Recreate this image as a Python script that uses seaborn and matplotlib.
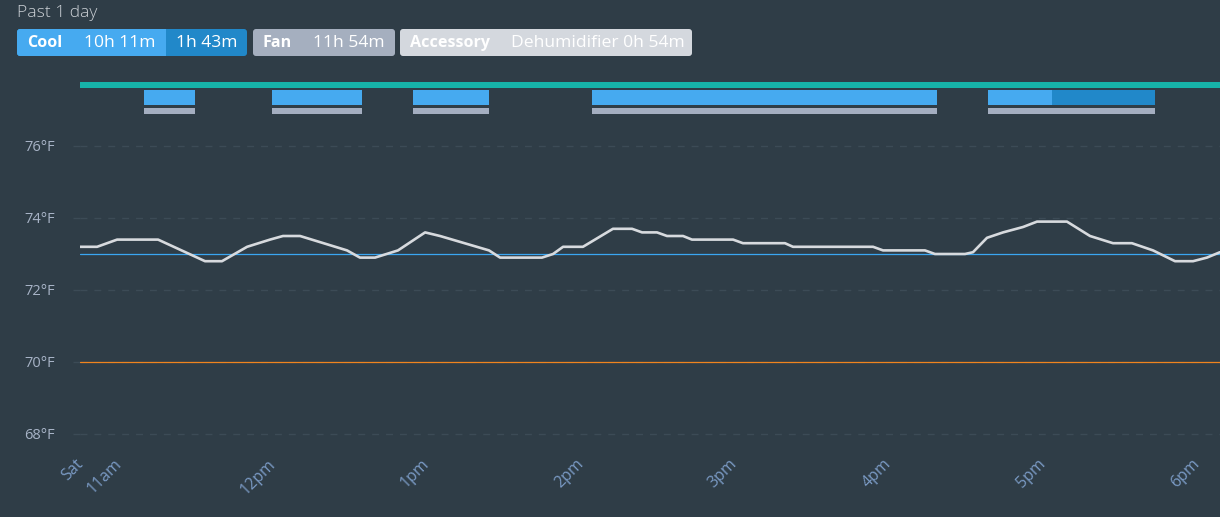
import matplotlib
matplotlib.use("Agg")
import matplotlib.pyplot as plt
from matplotlib.patches import FancyBboxPatch, Rectangle
import seaborn as sns
import pandas as pd

# ---------------- data ----------------
# time in decimal hours (Saturday), indoor temperature in °F
time_h = [10.753, 10.864, 10.994, 11.260, 11.565, 11.675, 11.838, 11.987, 12.071, 12.182,
          12.487, 12.571, 12.669, 12.818, 12.994, 13.091, 13.409, 13.481, 13.753, 13.825,
          13.890, 14.019, 14.214, 14.338, 14.403, 14.500, 14.565, 14.669, 14.727, 14.994,
          15.058, 15.331, 15.383, 15.903, 15.968, 16.240, 16.305, 16.500, 16.552, 16.643,
          16.747, 16.877, 16.968, 17.162, 17.312, 17.461, 17.584, 17.721, 17.864, 17.981,
          18.071, 18.156]
temp_f = [73.2, 73.2, 73.4, 73.4, 72.8, 72.8, 73.2, 73.4, 73.5, 73.5,
          73.1, 72.9, 72.9, 73.1, 73.6, 73.5, 73.1, 72.9, 72.9, 73.0,
          73.2, 73.2, 73.7, 73.7, 73.6, 73.6, 73.5, 73.5, 73.4, 73.4,
          73.3, 73.3, 73.2, 73.2, 73.1, 73.1, 73.0, 73.0, 73.05, 73.45,
          73.6, 73.75, 73.9, 73.9, 73.5, 73.3, 73.3, 73.1, 72.8, 72.8,
          72.9, 73.05]

cool_setpoint = 73.0
heat_setpoint = 70.0

x_start, x_end = 10.753, 18.156

system_on_spans = [(10.753, 18.156)]
cool_stage1_spans = [(11.169, 11.500), (12.000, 12.584), (12.916, 13.409),
                     (14.078, 16.318), (16.649, 17.065)]
cool_stage2_spans = [(17.065, 17.734)]
fan_spans = [(11.169, 11.500), (12.000, 12.584), (12.916, 13.409),
             (14.078, 16.318), (16.649, 17.734)]

y_ticks = [68, 70, 72, 74, 76]
y_tick_labels = ["68°F", "70°F", "72°F", "74°F", "76°F"]
x_ticks = [10.753, 11, 12, 13, 14, 15, 16, 17, 18]
x_tick_labels = ["Sat", "11am", "12pm", "1pm", "2pm", "3pm", "4pm", "5pm", "6pm"]

header_title = "Past 1 day"
cool_label, cool_stage1_time, cool_stage2_time = "Cool", "10h 11m", "1h 43m"
fan_label, fan_time = "Fan", "11h 54m"
acc_label, acc_time = "Accessory", "Dehumidifier 0h 54m"

# ---------------- style ----------------
BG = "#2f3d47"
GRID = "#3c4b56"
LIGHT_BLUE = "#46aaf0"
DARK_BLUE = "#2188c9"
TEAL = "#17b3a9"
GRAY_BAR = "#a4aec0"
ACC_GRAY = "#d4d8de"
LINE = "#d7dade"
YLAB = "#a7b3c6"
XLAB = "#7a9ac4"

sns.set_theme(style="dark")
plt.rcParams["font.family"] = ["Open Sans", "DejaVu Sans"]

W, H = 1220, 517
fig = plt.figure(figsize=(W / 100, H / 100), dpi=100, facecolor=BG)

def px_axes(x0, y0, x1, y1):
    return fig.add_axes([x0 / W, 1 - y1 / H, (x1 - x0) / W, (y1 - y0) / H])

# ---------------- main temperature axes ----------------
ax = px_axes(80, 130, 1220, 445)
ax.set_facecolor(BG)
df = pd.DataFrame({"time": time_h, "temp": temp_f})
sns.lineplot(data=df, x="time", y="temp", ax=ax, color=LINE, linewidth=1.9,
             solid_joinstyle="round", solid_capstyle="round", zorder=5)
ax.axhline(cool_setpoint, color="#3aa6f2", linewidth=0.9, zorder=4)
ax.axhline(heat_setpoint, color="#f0841e", linewidth=0.9, zorder=4)

ax.set_xlim(x_start, x_end)
ax.set_ylim(68 - 11 / 36, 76 + 16 / 36)
ax.set_yticks(y_ticks)
ax.set_yticklabels(y_tick_labels, color=YLAB, fontsize=10.5)
ax.set_xticks(x_ticks)
ax.set_xticklabels(x_tick_labels, color=XLAB, fontsize=11.5, rotation=45,
                   ha="right", va="center", rotation_mode="anchor")
ax.tick_params(axis="y", length=5, color=GRID, width=1, pad=13, left=True)
ax.tick_params(axis="x", length=0, pad=12)
for lbl in ax.get_xticklabels():
    lbl.set_transform(lbl.get_transform() + matplotlib.transforms.ScaledTranslation(1 / 100, 0, fig.dpi_scale_trans))
ax.grid(False)
for yv in y_ticks:
    if yv in (cool_setpoint, heat_setpoint):
        continue
    ax.axhline(yv, color=GRID, linewidth=1, linestyle=(0, (5, 5)), zorder=1)
ax.axhline(heat_setpoint, color=GRID, linewidth=1, linestyle=(0, (5, 5)), zorder=1)
for s in ax.spines.values():
    s.set_visible(False)
ax.set_xlabel("")
ax.set_ylabel("")

# ---------------- equipment status strip ----------------
sax = px_axes(80, 76, 1220, 118)
sax.set_facecolor("none")
sax.set_xlim(x_start, x_end)
sax.set_ylim(118, 76)
sax.axis("off")
kw = dict(edgecolor="none", linewidth=0)
sax.broken_barh([(a, b - a) for a, b in system_on_spans], (81.5, 6), facecolors=TEAL, **kw)
sax.broken_barh([(a, b - a) for a, b in cool_stage1_spans], (90, 15), facecolors=LIGHT_BLUE, **kw)
sax.broken_barh([(a, b - a) for a, b in cool_stage2_spans], (90, 15), facecolors=DARK_BLUE, **kw)
sax.broken_barh([(a, b - a) for a, b in fan_spans], (107.5, 6), facecolors=GRAY_BAR, **kw)

# ---------------- header ----------------
hax = px_axes(0, 0, W, H)
hax.set_facecolor("none")
hax.set_xlim(0, W)
hax.set_ylim(H, 0)
hax.axis("off")
hax.set_zorder(-1)

hax.text(17, 13, header_title, color="#cdd2d7", fontsize=12.5, fontweight="light",
         va="center", ha="left")

def pill(x0, x1, color):
    hax.add_patch(FancyBboxPatch((x0 + 3, 29 + 3), x1 - x0 - 6, 27 - 6,
                                 boxstyle="round,pad=3", facecolor=color,
                                 edgecolor="none", linewidth=0))

pill(17, 247, DARK_BLUE)
pill(17, 166, LIGHT_BLUE)
hax.add_patch(Rectangle((158, 29), 8, 27, facecolor=LIGHT_BLUE, edgecolor="none", linewidth=0))
pill(253, 395, "#a5afbf")
pill(400, 692, ACC_GRAY)

ty = 43
fs = 12.6
fsb = 11.6
hax.text(27, ty, cool_label, color="white", fontsize=fsb, fontweight="bold", va="center")
hax.text(84, ty, cool_stage1_time, color="white", fontsize=fs, va="center")
hax.text(176, ty, cool_stage2_time, color="white", fontsize=fs, va="center")
hax.text(263, ty, fan_label, color="white", fontsize=fsb, fontweight="bold", va="center")
hax.text(313, ty, fan_time, color="white", fontsize=fs, va="center")
hax.text(410, ty, acc_label, color="white", fontsize=fsb, fontweight="bold", va="center")
hax.text(511, ty, acc_time, color="white", fontsize=fs, va="center")

fig.savefig("out.png", dpi=100, facecolor=BG)
